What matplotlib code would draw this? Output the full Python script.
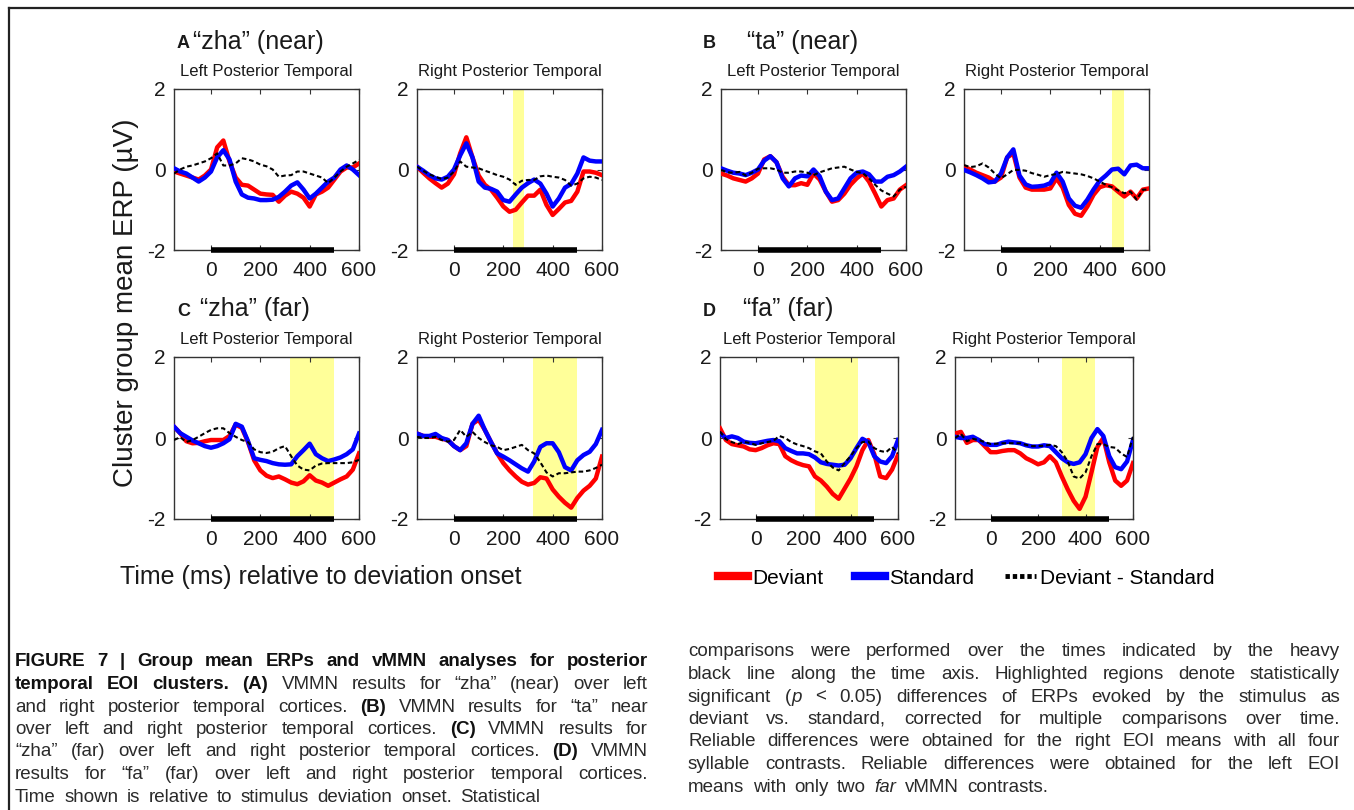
import numpy as np
import matplotlib
matplotlib.use("Agg")
import matplotlib.pyplot as plt
from matplotlib.lines import Line2D
from matplotlib import font_manager as fm

# ---------------- data ----------------
TIME = [-150, -125, -100, -75, -50, -25, 0, 25, 50, 75, 100, 125, 150, 175, 200,
        225, 250, 275, 300, 325, 350, 375, 400, 425, 450, 475, 500, 525, 550, 575, 600]

A_L_DEV = [-0.05,-0.10,-0.15,-0.20,-0.25,-0.15,0.00,0.55,0.72,0.20,-0.20,-0.38,-0.40,-0.50,-0.60,-0.62,-0.63,-0.80,-0.65,-0.55,-0.60,-0.70,-0.92,-0.62,-0.55,-0.45,-0.25,-0.05,0.05,0.05,0.15]
A_L_STD = [0.03,-0.05,-0.10,-0.20,-0.30,-0.20,-0.05,0.30,0.48,0.25,-0.30,-0.62,-0.70,-0.72,-0.76,-0.76,-0.75,-0.68,-0.55,-0.40,-0.32,-0.50,-0.72,-0.60,-0.45,-0.30,-0.20,0.00,0.10,0.00,-0.14]
A_L_DIF = [-0.10,0.00,0.07,0.10,0.15,0.20,0.28,0.40,0.10,0.10,0.15,0.28,0.25,0.20,0.12,0.08,0.00,-0.18,-0.15,-0.14,-0.05,-0.05,-0.10,-0.15,-0.20,-0.34,-0.20,-0.05,0.07,0.15,0.24]

A_R_DEV = [0.07,-0.08,-0.22,-0.34,-0.45,-0.35,-0.12,0.40,0.80,0.30,-0.15,-0.38,-0.50,-0.70,-0.92,-1.05,-1.00,-0.82,-0.65,-0.65,-0.50,-0.88,-1.13,-0.98,-0.82,-0.78,-0.55,-0.05,-0.05,-0.08,-0.14]
A_R_STD = [0.07,-0.03,-0.14,-0.22,-0.25,-0.18,0.00,0.35,0.65,0.30,-0.30,-0.45,-0.48,-0.55,-0.76,-0.80,-0.62,-0.45,-0.34,-0.25,-0.35,-0.60,-0.92,-0.72,-0.45,-0.36,-0.10,0.30,0.22,0.20,0.20]
A_R_DIF = [0.07,-0.03,-0.12,-0.18,-0.24,-0.20,-0.05,0.20,0.07,0.05,0.03,-0.03,-0.08,-0.14,-0.18,-0.25,-0.38,-0.28,-0.26,-0.26,-0.17,-0.15,-0.18,-0.20,-0.26,-0.40,-0.35,-0.22,-0.18,-0.20,-0.26]

B_L_DEV = [-0.10,-0.15,-0.22,-0.26,-0.30,-0.22,-0.10,0.25,0.33,0.18,-0.18,-0.39,-0.39,-0.34,-0.38,-0.10,-0.25,-0.55,-0.80,-0.76,-0.60,-0.38,-0.22,-0.10,-0.30,-0.60,-0.92,-0.76,-0.72,-0.50,-0.39]
B_L_STD = [0.03,-0.03,-0.08,-0.10,-0.14,-0.08,0.00,0.22,0.33,0.18,-0.22,-0.42,-0.22,-0.15,-0.17,0.00,-0.17,-0.55,-0.76,-0.72,-0.47,-0.22,-0.08,-0.05,-0.12,-0.30,-0.30,-0.18,-0.14,-0.05,0.07]
B_L_DIF = [-0.01,-0.07,-0.08,-0.06,-0.15,-0.08,0.02,0.03,0.03,0.00,-0.08,-0.08,-0.05,-0.05,-0.08,-0.14,-0.07,-0.02,0.03,0.05,0.07,0.00,-0.06,-0.09,-0.22,-0.38,-0.52,-0.60,-0.67,-0.50,-0.43]

B_R_DEV = [0.07,0.00,-0.08,-0.14,-0.20,-0.30,-0.20,0.30,0.40,-0.20,-0.45,-0.50,-0.50,-0.50,-0.47,-0.22,-0.45,-0.88,-1.10,-1.15,-0.92,-0.63,-0.44,-0.39,-0.42,-0.55,-0.67,-0.55,-0.72,-0.50,-0.47]
B_R_STD = [-0.01,-0.07,-0.14,-0.22,-0.32,-0.30,-0.10,0.30,0.50,-0.15,-0.37,-0.43,-0.42,-0.40,-0.34,-0.08,-0.30,-0.72,-0.90,-0.95,-0.75,-0.50,-0.28,-0.15,0.00,0.02,-0.12,0.10,0.12,0.03,0.03]
B_R_DIF = [0.11,0.06,0.08,0.15,0.05,-0.10,-0.22,-0.12,-0.01,-0.01,-0.03,-0.09,-0.13,-0.18,-0.14,-0.11,-0.06,-0.08,-0.10,-0.12,-0.16,-0.22,-0.30,-0.38,-0.44,-0.52,-0.59,-0.55,-0.75,-0.50,-0.50]

C_L_DEV = [0.28,0.12,-0.08,-0.13,-0.12,-0.08,-0.05,-0.05,-0.05,0.05,0.33,0.25,-0.10,-0.55,-0.80,-0.93,-0.99,-0.95,-1.02,-1.10,-1.14,-1.07,-0.92,-1.05,-1.10,-1.18,-1.10,-1.02,-0.95,-0.78,-0.38]
C_L_STD = [0.28,0.12,0.03,-0.06,-0.13,-0.20,-0.24,-0.20,-0.13,-0.03,0.35,0.28,-0.08,-0.50,-0.54,-0.57,-0.62,-0.65,-0.66,-0.65,-0.45,-0.30,-0.14,-0.40,-0.50,-0.57,-0.53,-0.48,-0.40,-0.28,0.11]
C_L_DIF = [-0.05,0.02,-0.10,-0.05,0.03,0.12,0.20,0.24,0.24,0.12,0.03,-0.05,-0.10,-0.28,-0.35,-0.37,-0.34,-0.25,-0.20,-0.45,-0.68,-0.78,-0.80,-0.68,-0.63,-0.62,-0.62,-0.62,-0.62,-0.60,-0.54]

C_R_DEV = [0.11,0.05,0.03,0.03,-0.02,-0.05,-0.20,-0.30,-0.20,0.35,0.45,0.20,-0.10,-0.38,-0.62,-0.80,-0.95,-1.08,-1.15,-1.11,-0.97,-1.00,-1.27,-1.45,-1.60,-1.72,-1.48,-1.30,-1.18,-1.00,-0.46]
C_R_STD = [0.11,0.05,0.05,0.10,0.00,-0.05,-0.20,-0.30,-0.13,0.35,0.55,0.20,-0.10,-0.38,-0.46,-0.55,-0.65,-0.75,-0.83,-0.58,-0.22,-0.13,-0.13,-0.35,-0.72,-0.80,-0.55,-0.42,-0.34,-0.15,0.20]
C_R_DIF = [0.03,0.00,0.00,0.03,-0.05,-0.09,-0.05,0.20,0.03,0.15,0.00,-0.10,-0.18,-0.22,-0.30,-0.27,-0.22,-0.17,-0.30,-0.38,-0.60,-0.85,-0.95,-0.87,-0.87,-0.85,-0.83,-0.83,-0.80,-0.74,-0.66]

D_L_DEV = [0.24,-0.05,-0.15,-0.18,-0.21,-0.28,-0.30,-0.25,-0.18,-0.13,-0.15,-0.45,-0.55,-0.62,-0.67,-0.70,-0.95,-1.05,-1.20,-1.38,-1.50,-1.25,-1.00,-0.70,-0.30,-0.05,-0.40,-0.95,-0.99,-0.78,-0.42]
D_L_STD = [0.11,0.00,0.04,0.00,-0.09,-0.12,-0.13,-0.10,-0.07,-0.05,-0.08,-0.25,-0.32,-0.38,-0.38,-0.40,-0.48,-0.60,-0.64,-0.66,-0.68,-0.66,-0.50,-0.25,-0.02,-0.10,-0.45,-0.58,-0.62,-0.45,-0.05]
D_L_DIF = [0.16,-0.03,-0.10,-0.15,-0.10,-0.12,-0.17,-0.13,-0.10,-0.07,0.05,0.00,-0.10,-0.16,-0.20,-0.25,-0.33,-0.38,-0.58,-0.73,-0.80,-0.62,-0.45,-0.25,-0.10,-0.09,-0.25,-0.32,-0.35,-0.22,-0.38]

D_R_DEV = [0.11,0.15,-0.12,-0.05,-0.05,-0.20,-0.35,-0.35,-0.32,-0.30,-0.30,-0.38,-0.50,-0.57,-0.65,-0.60,-0.45,-0.60,-0.95,-1.27,-1.55,-1.75,-1.45,-0.85,-0.22,0.00,-0.60,-1.05,-1.18,-1.05,-0.62]
D_R_STD = [0.03,0.00,0.00,0.03,-0.05,-0.15,-0.17,-0.17,-0.12,-0.09,-0.11,-0.13,-0.18,-0.21,-0.21,-0.18,-0.20,-0.35,-0.50,-0.60,-0.64,-0.60,-0.40,0.00,0.22,0.05,-0.45,-0.72,-0.77,-0.58,-0.05]
D_R_DIF = [0.00,0.10,-0.08,-0.02,-0.05,-0.10,-0.15,-0.14,-0.13,-0.13,-0.13,-0.13,-0.17,-0.20,-0.20,-0.19,-0.17,-0.20,-0.35,-0.58,-0.95,-1.00,-0.85,-0.45,-0.15,-0.15,-0.22,-0.24,-0.38,-0.47,0.03]

# significant (highlighted) windows, ms
SIG_A_R = [240, 285]
SIG_B_R = [450, 500]
SIG_C_L = [320, 500]
SIG_C_R = [320, 500]
SIG_D_L = [250, 430]
SIG_D_R = [300, 440]
ANALYSIS_WINDOW = [0, 500]

XTICKS = [0, 200, 400, 600]
YTICKS = [-2, 0, 2]
XLIM = (-150, 600)
YLIM = (-2, 2)

SUBTITLES = ["Left Posterior Temporal", "Right Posterior Temporal"]
PANEL_LETTERS = ["A", "B", "C", "D"]
PANEL_TITLES = ["\u201czha\u201d (near)", "\u201cta\u201d (near)", "\u201czha\u201d (far)", "\u201cfa\u201d (far)"]
LEGEND_LABELS = ["Deviant", "Standard", "Deviant - Standard"]

# ---------------- figure ----------------
W, H = 1354, 810
plt.rcParams['font.family'] = ['Liberation Sans', 'DejaVu Sans']
fig = plt.figure(figsize=(W / 100, H / 100), dpi=100)
fig.patch.set_facecolor('white')

RED = '#ff0000'
BLUE = '#0000ff'
YEL = '#ffff99'
TXT = '#1a1a1a'

def add_ax(x0, x1, y0, y1):
    return fig.add_axes([x0 / W, 1 - y1 / H, (x1 - x0) / W, (y1 - y0) / H])

ROW1 = (89, 250)
ROW2 = (357, 519)
panels = [
    ((174, 359), ROW1, A_L_DEV, A_L_STD, A_L_DIF, None, 0),
    ((417, 602), ROW1, A_R_DEV, A_R_STD, A_R_DIF, SIG_A_R, 1),
    ((721, 906), ROW1, B_L_DEV, B_L_STD, B_L_DIF, None, 0),
    ((964, 1149), ROW1, B_R_DEV, B_R_STD, B_R_DIF, SIG_B_R, 1),
    ((174, 359), ROW2, C_L_DEV, C_L_STD, C_L_DIF, SIG_C_L, 0),
    ((417, 602), ROW2, C_R_DEV, C_R_STD, C_R_DIF, SIG_C_R, 1),
    ((720, 898), ROW2, D_L_DEV, D_L_STD, D_L_DIF, SIG_D_L, 0),
    ((955, 1133), ROW2, D_R_DEV, D_R_STD, D_R_DIF, SIG_D_R, 1),
]

for (xr, yr, dev, std, dif, sig, side) in panels:
    ax = add_ax(xr[0], xr[1], yr[0], yr[1])
    if sig is not None:
        ax.axvspan(sig[0], sig[1], color=YEL, lw=0, zorder=0)
    ax.plot(TIME, dev, color=RED, lw=3.2, zorder=3, solid_joinstyle='round')
    ax.plot(TIME, std, color=BLUE, lw=3.2, zorder=4, solid_joinstyle='round')
    ax.plot(TIME, dif, color='black', lw=1.5, dashes=(2.2, 1.4), zorder=5)
    ax.plot(ANALYSIS_WINDOW, [YLIM[0], YLIM[0]], color='black', lw=4.0,
            solid_capstyle='butt', clip_on=False, zorder=6)
    ax.set_xlim(*XLIM)
    ax.set_ylim(*YLIM)
    ax.set_xticks(XTICKS)
    ax.set_yticks(YTICKS)
    ax.set_yticklabels([str(v) for v in YTICKS])
    ax.tick_params(direction='in', length=3.5, width=0.8, top=True, right=True,
                   labelsize=15, colors='#333333', labelcolor=TXT)
    ax.tick_params(axis='x', pad=8)
    ax.tick_params(axis='y', pad=6)
    for s in ax.spines.values():
        s.set_color('#333333')
        s.set_linewidth(1.0)
    ax.annotate(SUBTITLES[side], xy=(0.5, 1.0), xycoords='axes fraction',
                xytext=(0, 12.5), textcoords='offset points', ha='center', va='center',
                fontsize=12, color=TXT)

# panel letters & titles (baseline positions in pixels)
title_pos = [(177, 193, 48.5), (703, 747, 48.5), (177, 200, 316), (703, 743, 316)]
for (lx, tx, by), letter, title in zip(title_pos, PANEL_LETTERS, PANEL_TITLES):
    fig.text(lx / W, 1 - by / H, letter, fontsize=13, fontweight='bold', color=TXT, va='baseline')
    fig.text(tx / W, 1 - by / H, title, fontsize=18, color=TXT, va='baseline')

# axis labels
fig.text(126 / W, 1 - 303 / H, "Cluster group mean ERP (\u00b5V)", rotation=90,
         ha='center', va='center', fontsize=20, color=TXT)
fig.text(321 / W, 1 - 577 / H, "Time (ms) relative to deviation onset",
         ha='center', va='center', fontsize=18, color=TXT)

# legend
leg_handles = [Line2D([], [], color=RED, lw=6),
               Line2D([], [], color=BLUE, lw=6),
               Line2D([], [], color='black', lw=3.5, linestyle=(0, (0.9, 0.6)))]
fig.legend(leg_handles, LEGEND_LABELS, loc='center left',
           bbox_to_anchor=(718 / W, 1 - 578 / H), ncol=3, frameon=False,
           fontsize=15, handlelength=1.45, handletextpad=0.2, columnspacing=1.5,
           borderaxespad=0, borderpad=0)

# figure border (top and left)
fig.add_artist(Line2D([9 / W, 1.0], [1 - 8 / H, 1 - 8 / H], transform=fig.transFigure,
                      color='#222222', lw=1.6))
fig.add_artist(Line2D([9 / W, 9 / W], [1 - 8 / H, 0.0], transform=fig.transFigure,
                      color='#222222', lw=1.6))

# ---------------- caption (justified, word by word) ----------------
try:
    fm.findfont(fm.FontProperties(family='Liberation Sans Narrow'), fallback_to_default=False)
    CAP_FAMILY = 'Liberation Sans Narrow'
    CAP_SIZE = 16.3
except Exception:
    CAP_FAMILY = 'Liberation Sans'
    CAP_SIZE = 13.5

B, R, I = 'b', 'r', 'i'
LEFT_LINES = [
    [("FIGURE 7 | Group mean ERPs and vMMN analyses for posterior", B)],
    [("temporal EOI clusters. (A)", B), (" VMMN results for \u201czha\u201d (near) over left", R)],
    [("and right posterior temporal cortices. ", R), ("(B)", B), (" VMMN results for \u201cta\u201d near", R)],
    [("over left and right posterior temporal cortices. ", R), ("(C)", B), (" VMMN results for", R)],
    [("\u201czha\u201d (far) over left and right posterior temporal cortices. ", R), ("(D)", B), (" VMMN", R)],
    [("results for \u201cfa\u201d (far) over left and right posterior temporal cortices.", R)],
    [("Time shown is relative to stimulus deviation onset. Statistical", R)],
]
RIGHT_LINES = [
    [("comparisons were performed over the times indicated by the heavy", R)],
    [("black line along the time axis. Highlighted regions denote statistically", R)],
    [("significant (", R), ("p", I), (" < 0.05) differences of ERPs evoked by the stimulus as", R)],
    [("deviant vs. standard, corrected for multiple comparisons over time.", R)],
    [("Reliable differences were obtained for the right EOI means with all four", R)],
    [("syllable contrasts. Reliable differences were obtained for the left EOI", R)],
    [("means with only two ", R), ("far", I), (" vMMN contrasts.", R)],
]

def to_words(runs):
    words, cur = [], []
    for text, st in runs:
        parts = text.split(' ')
        for j, p in enumerate(parts):
            if j > 0 and cur:
                words.append(cur)
                cur = []
            if p:
                cur.append((p, st))
    if cur:
        words.append(cur)
    return words

renderer = fig.canvas.get_renderer()

def style_kw(st):
    return dict(fontsize=CAP_SIZE, family=CAP_FAMILY, color='#2a2a2a' if st != B else '#111111',
                fontweight='bold' if st == B else 'normal',
                fontstyle='italic' if st == I else 'normal')

def seg_width(text, st):
    t = fig.text(0, 0, text, **style_kw(st))
    w = t.get_window_extent(renderer).width
    t.remove()
    return w

SPACE_W = seg_width("a a", R) - 2 * seg_width("a", R)

def draw_block(lines, x0, x1, y_first, dy, justify_last):
    n = len(lines)
    for k, runs in enumerate(lines):
        words = to_words(runs)
        widths = [[seg_width(s, st) for s, st in w] for w in words]
        tot = sum(sum(w) for w in widths)
        gaps = len(words) - 1
        if (k < n - 1 or justify_last) and gaps > 0:
            gap = (x1 - x0 - tot) / gaps
        else:
            gap = SPACE_W * 1.6
        x = x0
        y = 1 - (y_first + k * dy) / H
        for w, ws in zip(words, widths):
            for (s, st), sw in zip(w, ws):
                fig.text(x / W, y, s, va='center', ha='left', **style_kw(st))
                x += sw
            x += gap

draw_block(LEFT_LINES, 15, 648, 662, 22.5, False)
draw_block(RIGHT_LINES, 688, 1340, 652, 22.5, False)

fig.savefig("out.png", dpi=100, facecolor='white')
